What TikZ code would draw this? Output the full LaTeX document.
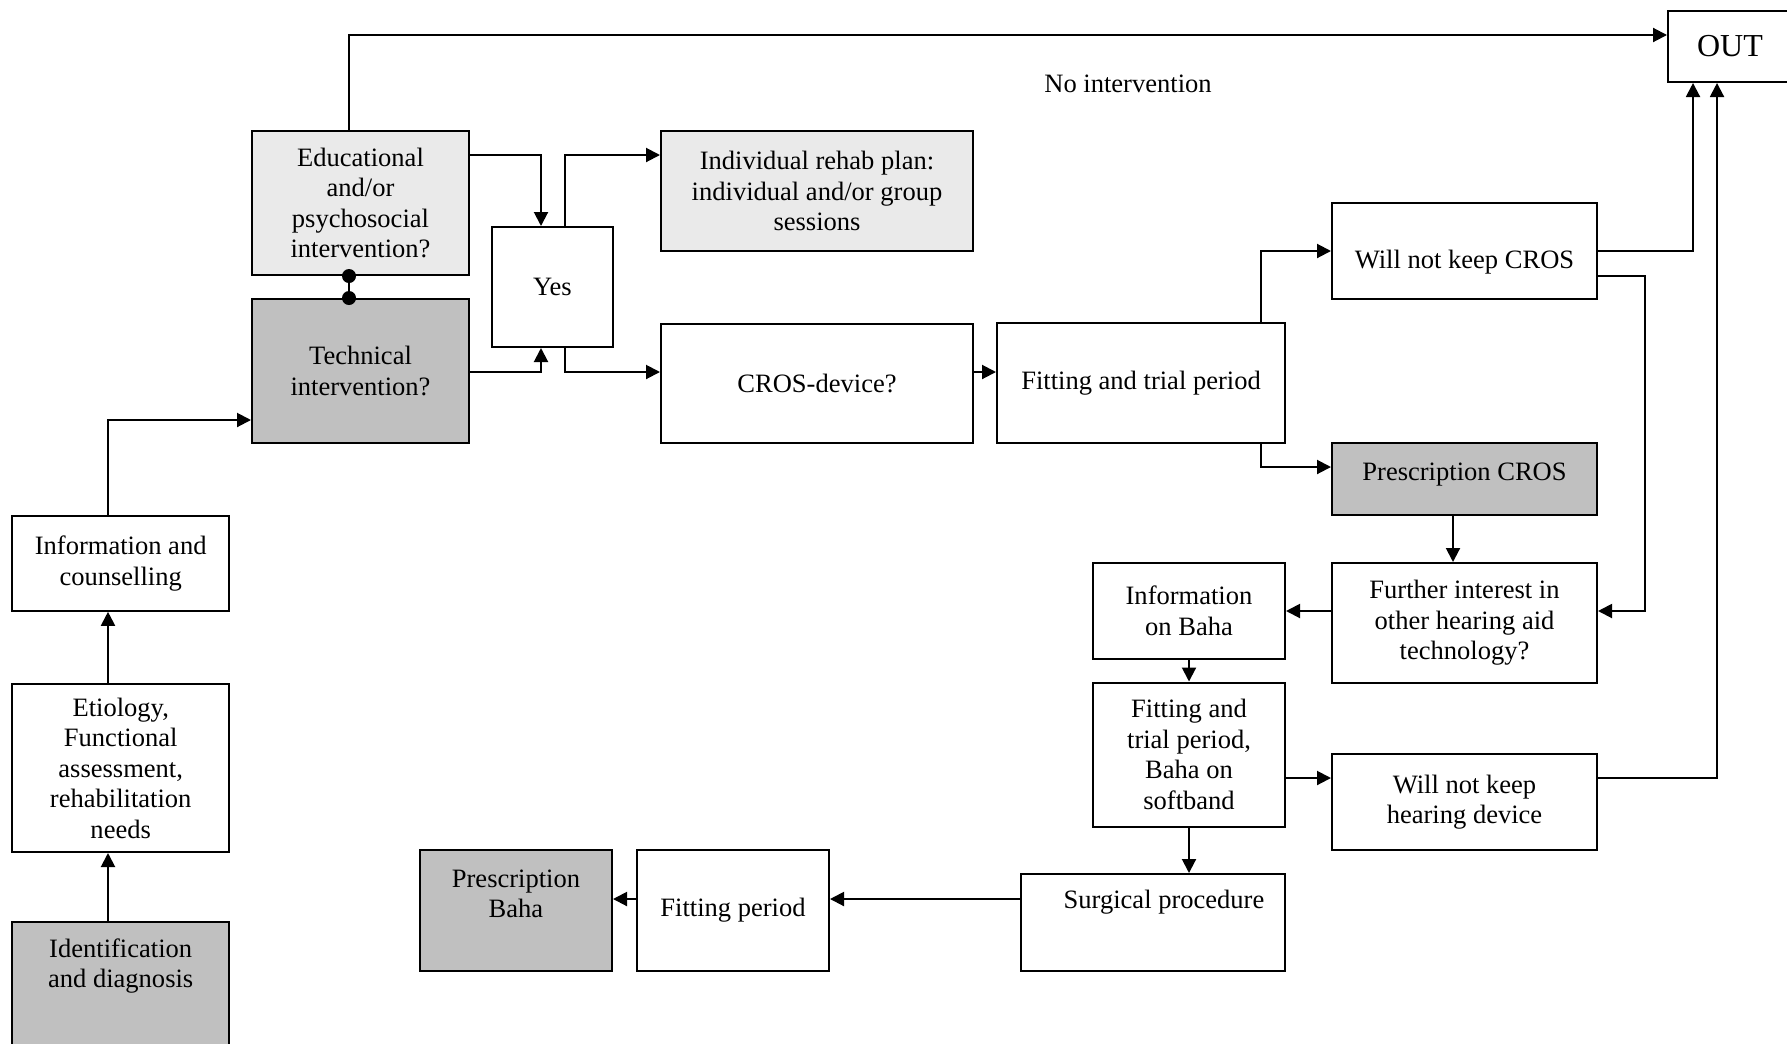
\documentclass[tikz,border=0pt]{standalone}
\usepackage{fontspec}
\setmainfont{Liberation Serif}
\usetikzlibrary{arrows.meta}

\definecolor{lightbox}{HTML}{EAEAEA}
\definecolor{darkbox}{HTML}{C0C0C0}

\tikzset{
  box/.style={draw, line width=1.5pt, align=center, inner sep=2pt},
  boxsize/.style 2 args={minimum width=#1*0.75pt, minimum height=#2*0.75pt},
  arr/.style={line width=1.5pt, -{Triangle[length=10.5pt, width=10.5pt]}},
}

\begin{document}
\begin{tikzpicture}[x=0.75pt, y=-0.75pt, font=\fontsize{19.9pt}{22.9pt}\selectfont]
\useasboundingbox (0,0) rectangle (1787,1043);

% left column
\node[box, boxsize={217}{138}, fill=darkbox, text depth=41.8pt] (ident) at (120.7,991) {Identification\\and diagnosis};
\node[box, boxsize={217}{168}] (etio) at (120.7,768) {Etiology,\\Functional\\assessment,\\rehabilitation\\needs};
\node[box, boxsize={217}{95}] (infoc) at (120.7,563.3) {Information and\\counselling};

% questions
\node[box, boxsize={217}{144}, fill=lightbox] (edu) at (360.5,203) {Educational\\and/or\\psychosocial\\intervention?};
\node[box, boxsize={217}{144}, fill=darkbox] (tech) at (360.5,371) {Technical\\intervention?};
\node[box, boxsize={121}{120}] (yes) at (552.5,287) {Yes};
\node[box, boxsize={312}{120}, fill=lightbox] (plan) at (817,191) {Individual rehab plan:\\individual and/or group\\sessions};
\node[box, boxsize={312}{119}] (cros) at (817,383.5) {CROS-device?};
\node[box, boxsize={288}{120}] (fit) at (1141,383) {Fitting and trial period};

% CROS branch
\node[box, boxsize={265}{96}, text height=30.1pt] (wnkc) at (1464.5,251) {Will not keep CROS};
\node[box, boxsize={265}{72}, fill=darkbox, text depth=11pt] (rxc) at (1464.5,479) {Prescription CROS};
\node[box, boxsize={265}{120}] (further) at (1464.5,623) {Further interest in\\other hearing aid\\technology?};

% Baha branch
\node[box, boxsize={192}{96}] (infob) at (1189,611) {Information\\on Baha};
\node[box, boxsize={192}{144}] (fitb) at (1189,754.5) {Fitting and\\trial period,\\Baha on\\softband};
\node[box, boxsize={265}{96}] (wnkh) at (1464.5,802) {Will not keep\\hearing device};
\node[box, boxsize={264}{97}, text depth=34.3pt] (surg) at (1153,922.5) {\hspace*{16.5pt}Surgical procedure};
\node[box, boxsize={192}{121}] (fitp) at (733,910.5) {Fitting period};
\node[box, boxsize={192}{121}, fill=darkbox, text depth=25.5pt] (rxb) at (516,910.5) {Prescription\\Baha};

% exit
\node[box, boxsize={124}{71}, font=\fontsize{24pt}{28pt}\selectfont] (out) at (1730,46.5) {OUT};
\node (noint) at (1128,84) {No intervention};

% connectors
\draw[arr] (ident.north -| 108,0) -- (etio.south -| 108,0);
\draw[arr] (etio.north -| 108,0) -- (infoc.south -| 108,0);
\draw[arr] (infoc.north -| 108,0) |- (tech.west |- 0,420);
\draw[arr] (edu.north -| 349,0) |- (out.west |- 0,35);
\draw[line width=1.5pt] (edu.south -| 349,0) -- (tech.north -| 349,0);
\fill (edu.south -| 349,0) circle (5.25pt);
\fill (tech.north -| 349,0) circle (5.25pt);
\draw[arr] (edu.east |- 0,155) -| (yes.north -| 541,0);
\draw[arr] (tech.east |- 0,372) -| (yes.south -| 541,0);
\draw[arr] (yes.north -| 565,0) |- (plan.west |- 0,155);
\draw[arr] (yes.south -| 565,0) |- (cros.west |- 0,372);
\draw[arr] (cros.east |- 0,372) -- (fit.west |- 0,372);
\draw[arr] (fit.north -| 1261,0) |- (wnkc.west);
\draw[arr] (fit.south -| 1261,0) |- (rxc.west |- 0,467);
\draw[arr] (wnkc.east) -| (out.south -| 1693,0);
\draw[arr] (wnkc.east |- 0,276) -- (1645,276) |- (further.east |- 0,611);
\draw[arr] (rxc.south -| 1453,0) -- (further.north -| 1453,0);
\draw[arr] (further.west |- 0,611) -- (infob.east |- 0,611);
\draw[arr] (infob.south) -- (fitb.north);
\draw[arr] (fitb.east |- 0,778) -- (wnkh.west |- 0,778);
\draw[arr] (wnkh.east |- 0,778) -| (out.south -| 1717,0);
\draw[arr] (fitb.south) -- (surg.north -| fitb.south);
\draw[arr] (surg.west |- 0,899) -- (fitp.east |- 0,899);
\draw[arr] (fitp.west |- 0,899) -- (rxb.east |- 0,899);
\end{tikzpicture}
\end{document}
